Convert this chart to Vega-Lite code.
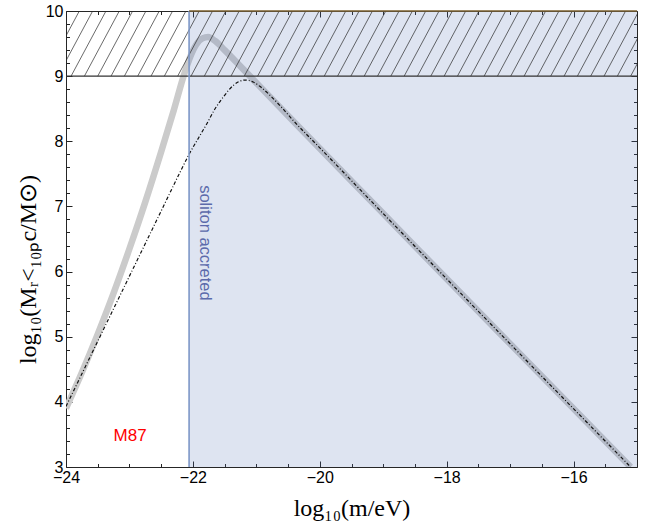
{
  "$schema": "https://vega.github.io/schema/vega-lite/v6.json",
  "width": 571,
  "height": 456,
  "autosize": "none",
  "padding": {"left": 66, "top": 11, "right": 22, "bottom": 58},
  "background": "white",
  "config": {
    "view": {"stroke": "#262626", "strokeWidth": 1},
    "axis": {
      "grid": false,
      "domain": false,
      "ticks": true,
      "tickColor": "#222222",
      "tickWidth": 1,
      "labelFont": "Liberation Sans",
      "labelFontSize": 16,
      "labelColor": "black",
      "labelFlush": false,
      "labelOverlap": false,
      "titleFont": "Liberation Serif",
      "titleFontWeight": "normal",
      "titleFontSize": 24,
      "titleColor": "black",
      "zindex": 1
    }
  },
  "datasets": {
    "grey": [
      {"x": -24.0, "y": 3.9},
      {"x": -23.75, "y": 4.45},
      {"x": -23.5, "y": 5.04},
      {"x": -23.25, "y": 5.67},
      {"x": -23.0, "y": 6.35},
      {"x": -22.75, "y": 7.07},
      {"x": -22.5, "y": 7.84},
      {"x": -22.3, "y": 8.48},
      {"x": -22.14, "y": 9.02},
      {"x": -22.04, "y": 9.3},
      {"x": -21.95, "y": 9.48},
      {"x": -21.85, "y": 9.58},
      {"x": -21.76, "y": 9.6},
      {"x": -21.65, "y": 9.54},
      {"x": -21.5, "y": 9.4},
      {"x": -21.2, "y": 9.1},
      {"x": -20.31, "y": 8.2},
      {"x": -19.05, "y": 6.94},
      {"x": -17.15, "y": 5.04},
      {"x": -15.1, "y": 3.0}
    ],
    "black": [
      {"x": -24.0, "y": 3.93},
      {"x": -23.5, "y": 4.93},
      {"x": -23.0, "y": 5.93},
      {"x": -22.5, "y": 6.93},
      {"x": -22.2, "y": 7.53},
      {"x": -22.06, "y": 7.8},
      {"x": -21.9, "y": 8.07},
      {"x": -21.78, "y": 8.27},
      {"x": -21.65, "y": 8.5},
      {"x": -21.52, "y": 8.68},
      {"x": -21.36, "y": 8.86},
      {"x": -21.18, "y": 8.94},
      {"x": -21.05, "y": 8.91},
      {"x": -20.94, "y": 8.84},
      {"x": -20.8, "y": 8.72},
      {"x": -20.62, "y": 8.54},
      {"x": -20.4, "y": 8.3},
      {"x": -20.0, "y": 7.9},
      {"x": -19.05, "y": 6.94},
      {"x": -17.15, "y": 5.04},
      {"x": -15.1, "y": 3.0}
    ],
    "hatch": [
      {"b": -24.55, "t": -24.0}, {"b": -24.34, "t": -23.79}, {"b": -24.13, "t": -23.58},
      {"b": -23.92, "t": -23.37}, {"b": -23.71, "t": -23.16}, {"b": -23.5, "t": -22.95},
      {"b": -23.29, "t": -22.74}, {"b": -23.08, "t": -22.53}, {"b": -22.87, "t": -22.32},
      {"b": -22.66, "t": -22.11}, {"b": -22.45, "t": -21.9}, {"b": -22.24, "t": -21.69},
      {"b": -22.03, "t": -21.48}, {"b": -21.82, "t": -21.27}, {"b": -21.61, "t": -21.06},
      {"b": -21.4, "t": -20.85}, {"b": -21.19, "t": -20.64}, {"b": -20.98, "t": -20.43},
      {"b": -20.77, "t": -20.22}, {"b": -20.56, "t": -20.01}, {"b": -20.35, "t": -19.8},
      {"b": -20.14, "t": -19.59}, {"b": -19.93, "t": -19.38}, {"b": -19.72, "t": -19.17},
      {"b": -19.51, "t": -18.96}, {"b": -19.3, "t": -18.75}, {"b": -19.09, "t": -18.54},
      {"b": -18.88, "t": -18.33}, {"b": -18.67, "t": -18.12}, {"b": -18.46, "t": -17.91},
      {"b": -18.25, "t": -17.7}, {"b": -18.04, "t": -17.49}, {"b": -17.83, "t": -17.28},
      {"b": -17.62, "t": -17.07}, {"b": -17.41, "t": -16.86}, {"b": -17.2, "t": -16.65},
      {"b": -16.99, "t": -16.44}, {"b": -16.78, "t": -16.23}, {"b": -16.57, "t": -16.02},
      {"b": -16.36, "t": -15.81}, {"b": -16.15, "t": -15.6}, {"b": -15.94, "t": -15.39},
      {"b": -15.73, "t": -15.18}, {"b": -15.52, "t": -14.97}, {"b": -15.31, "t": -14.76},
      {"b": -15.1, "t": -14.55}
    ]
  },
  "layer": [
    {
      "data": {"name": "grey"},
      "mark": {"type": "line", "color": "#cbcbcb", "strokeWidth": 6.5, "strokeCap": "butt", "interpolate": "monotone", "clip": true},
      "encoding": {
        "x": {
          "field": "x", "type": "quantitative",
          "scale": {"domain": [-24, -15], "nice": false, "zero": false},
          "axis": {
            "orient": "bottom", "values": [-24, -22, -20, -18, -16],
            "offset": -6, "tickSize": 6, "labelPadding": 2,
            "title": "log₁₀(m/eV)", "titleY": 47, "titleBaseline": "middle"
          }
        },
        "y": {
          "field": "y", "type": "quantitative",
          "scale": {"domain": [3, 10], "nice": false, "zero": false},
          "axis": {
            "orient": "left", "values": [3, 4, 5, 6, 7, 8, 9, 10],
            "offset": -6, "tickSize": 6, "labelPadding": 3,
            "title": "log₁₀(Mᵣ<₁₀ₚc/M⊙)", "titleX": -44, "titleY": 258,
            "titleAngle": -90, "titleBaseline": "middle", "titleAlign": "center"
          }
        }
      }
    },
    {
      "data": {"values": [{"x1": -22.06, "x2": -15, "y1": 3, "y2": 10}]},
      "mark": {"type": "rect", "fill": "#5878b8", "fillOpacity": 0.2, "strokeWidth": 0},
      "encoding": {
        "x": {
          "field": "x1", "type": "quantitative",
          "axis": {
            "orient": "bottom",
            "values": [-23.5, -23, -22.5, -21.5, -21, -20.5, -19.5, -19, -18.5, -17.5, -17, -16.5, -15.5],
            "offset": -3.5, "tickSize": 3.5, "labels": false, "title": null
          }
        },
        "x2": {"field": "x2"},
        "y": {
          "field": "y1", "type": "quantitative",
          "axis": {
            "orient": "left",
            "values": [3.2, 3.4, 3.6, 3.8, 4.2, 4.4, 4.6, 4.8, 5.2, 5.4, 5.6, 5.8, 6.2, 6.4, 6.6, 6.8, 7.2, 7.4, 7.6, 7.8, 8.2, 8.4, 8.6, 8.8, 9.2, 9.4, 9.6, 9.8],
            "offset": -3.5, "tickSize": 3.5, "labels": false, "title": null
          }
        },
        "y2": {"field": "y2"}
      }
    },
    {
      "data": {"name": "black"},
      "mark": {"type": "line", "color": "#111111", "strokeWidth": 1.2, "strokeDash": [3.5, 2, 1, 2], "interpolate": "monotone", "clip": true},
      "encoding": {
        "x": {
          "field": "x", "type": "quantitative",
          "axis": {"orient": "top", "values": [-24, -22, -20, -18, -16], "offset": -6, "tickSize": 6, "labels": false, "title": null}
        },
        "y": {
          "field": "y", "type": "quantitative",
          "axis": {"orient": "right", "values": [3, 4, 5, 6, 7, 8, 9, 10], "offset": -6, "tickSize": 6, "labels": false, "title": null}
        }
      }
    },
    {
      "data": {"name": "hatch"},
      "mark": {"type": "rule", "color": "#2a2a2a", "strokeWidth": 0.7, "clip": true},
      "encoding": {
        "x": {
          "field": "b", "type": "quantitative",
          "axis": {
            "orient": "top",
            "values": [-23.5, -23, -22.5, -21.5, -21, -20.5, -19.5, -19, -18.5, -17.5, -17, -16.5, -15.5],
            "offset": -3.5, "tickSize": 3.5, "labels": false, "title": null
          }
        },
        "x2": {"field": "t"},
        "y": {
          "datum": 9, "type": "quantitative",
          "axis": {
            "orient": "right",
            "values": [3.2, 3.4, 3.6, 3.8, 4.2, 4.4, 4.6, 4.8, 5.2, 5.4, 5.6, 5.8, 6.2, 6.4, 6.6, 6.8, 7.2, 7.4, 7.6, 7.8, 8.2, 8.4, 8.6, 8.8, 9.2, 9.4, 9.6, 9.8],
            "offset": -3.5, "tickSize": 3.5, "labels": false, "title": null
          }
        },
        "y2": {"datum": 10}
      }
    },
    {
      "data": {"values": [{"v": 9}]},
      "mark": {"type": "rule", "color": "#333333", "strokeWidth": 1.3},
      "encoding": {"y": {"field": "v", "type": "quantitative", "axis": null}}
    },
    {
      "data": {"values": [{"v": -22.06}]},
      "mark": {"type": "rule", "color": "#7d97c7", "strokeWidth": 1.6},
      "encoding": {"x": {"field": "v", "type": "quantitative", "axis": null}}
    },
    {
      "data": {"values": [{"a": -22.06, "b": -15, "v": 10}]},
      "mark": {"type": "rule", "color": "#7a5f2e", "strokeWidth": 1.6},
      "encoding": {
        "x": {"field": "a", "type": "quantitative", "axis": null},
        "x2": {"field": "b"},
        "y": {"field": "v", "type": "quantitative", "axis": null}
      }
    },
    {
      "data": {"values": [{"x": -22.99, "y": 3.47, "label": "M87"}]},
      "mark": {"type": "text", "color": "#ff0000", "font": "Liberation Sans", "fontSize": 17, "align": "center", "baseline": "middle"},
      "encoding": {
        "x": {"field": "x", "type": "quantitative", "axis": null},
        "y": {"field": "y", "type": "quantitative", "axis": null},
        "text": {"field": "label"}
      }
    },
    {
      "data": {"values": [{"x": -21.81, "y": 6.44, "label": "soliton accreted"}]},
      "mark": {"type": "text", "color": "#5b6aab", "font": "Liberation Sans", "fontSize": 16.5, "align": "center", "baseline": "middle", "angle": 90},
      "encoding": {
        "x": {"field": "x", "type": "quantitative", "axis": null},
        "y": {"field": "y", "type": "quantitative", "axis": null},
        "text": {"field": "label"}
      }
    }
  ],
  "resolve": {"axis": {"x": "independent", "y": "independent"}}
}
